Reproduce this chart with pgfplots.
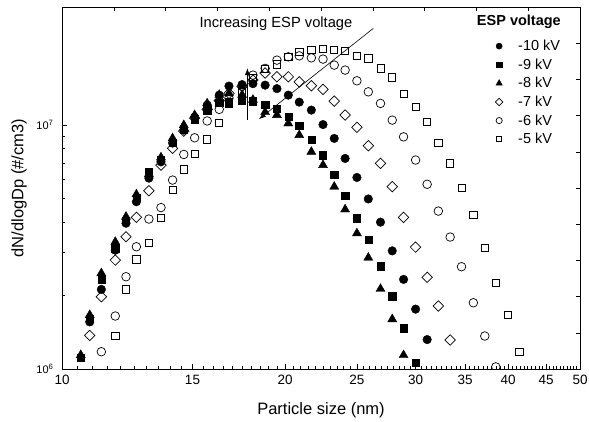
\documentclass[border=0pt]{standalone}
\usepackage{fontspec}
\setmainfont{Liberation Sans}
\usepackage{pgfplots}
\pgfplotsset{compat=1.18}
\usetikzlibrary{arrows.meta}

\begin{document}
\begin{tikzpicture}
\begin{axis}[
  at={(0pt,0pt)}, anchor=south west,
  scale only axis, width=518pt, height=362pt,
  xmode=log, ymode=log,
  xmin=10, xmax=50, ymin=1e6, ymax=3.05e7,
  xtick={10,15,20,25,30,35,40,45,50},
  xticklabels={10,15,20,25,30,35,40,45,50},
  minor xtick={10.5,11,...,49.5},
  ytick={1e6,1e7},
  yticklabels={10\textsuperscript{6},10\textsuperscript{7}},
  xtick pos=bottom, ytick pos=left,
  tick align=inside,
  major tick length=5pt, minor tick length=3pt,
  every tick/.style={black, line width=0.6pt},
  axis line style={line width=0.8pt},
  xticklabel style={font=\fontsize{13.5}{15}\selectfont, yshift=-3pt},
  yticklabel style={font=\fontsize{11}{12}\selectfont, xshift=-5pt},
  xlabel={Particle size (nm)},
  ylabel={dN/dlogDp (\#/cm3)},
  label style={font=\fontsize{16.5}{19}\selectfont},
  xlabel style={at={(axis description cs:0.5,-0.113)}, anchor=center},
  ylabel style={at={(axis description cs:-0.083,0.5)}, anchor=center},
  clip marker paths=true,
  legend style={draw=none, fill=none, at={(0.824,0.92)}, anchor=north west,
    font=\fontsize{14.5}{16}\selectfont, row sep=2.6pt},
  legend cell align=left,
  legend image code/.code={\draw[#1] plot coordinates {(0.25cm,0cm)}; \path[draw=none,fill=none] (0cm,0cm) -- (0.85cm,0cm);},
  legend image post style={every mark/.append style={scale=0.72}},
]
\addplot[only marks, mark=*, mark size=4.3pt, black] coordinates {
(10.6,0.99e6)(10.9,1.56e6)(11.3,2.12e6)(11.8,3.07e6)(12.2,3.96e6)(12.6,4.85e6)(13.1,6.06e6)(13.6,7.07e6)(14.1,8.44e6)(14.6,9.54e6)(15.1,1.078e7)(15.7,1.208e7)(16.3,1.327e7)(16.8,1.445e7)(17.5,1.466e7)(18.1,1.479e7)(18.8,1.458e7)(19.5,1.411e7)(20.2,1.327e7)(20.9,1.242e7)(21.7,1.152e7)(22.5,1.005e7)(23.3,8.82e6)(24.1,7.30e6)(25.0,6.10e6)(25.9,4.98e6)(26.9,4.00e6)(27.9,3.05e6)(28.9,2.33e6)(30.0,1.76e6)(31.1,1.32e6)(32.2,0.99e6)
};
\addlegendentry{-10 kV}
\addplot[only marks, mark=square*, mark size=3.6pt, black] coordinates {
(10.6,1.109e6)(10.9,1.603e6)(11.3,2.32e6)(11.8,3.13e6)(12.2,4.04e6)(12.6,5.02e6)(13.1,6.42e6)(13.6,7.19e6)(14.1,8.46e6)(14.6,9.54e6)(15.1,1.058e7)(15.7,1.152e7)(16.3,1.231e7)(16.8,1.242e7)(17.5,1.266e7)(18.1,1.254e7)(18.8,1.208e7)(19.5,1.171e7)(20.2,1.081e7)(20.9,9.93e6)(21.7,8.68e6)(22.5,7.53e6)(23.3,6.24e6)(24.1,5.12e6)(25.0,4.15e6)(25.9,3.38e6)(26.9,2.64e6)(27.9,1.99e6)(28.9,1.47e6)(30.0,1.065e6)
};
\addlegendentry{-9 kV}
\addplot[only marks, mark=triangle*, mark size=5.2pt, black] coordinates {
(10.6,1.141e6)(10.9,1.665e6)(11.3,2.47e6)(11.8,3.32e6)(12.2,4.21e6)(12.6,5.20e6)(13.1,6.30e6)(13.6,7.37e6)(14.1,8.83e6)(14.6,1.0e7)(15.1,1.099e7)(15.7,1.227e7)(16.3,1.33e7)(16.8,1.35e7)(17.5,1.33e7)(18.1,1.27e7)(18.8,1.13e7)(19.5,1.10e7)(20.2,1.016e7)(20.9,9.10e6)(21.7,7.77e6)(22.5,6.86e6)(23.3,5.59e6)(24.1,4.51e6)(25.0,3.60e6)(25.9,2.86e6)(26.9,2.13e6)(27.9,1.60e6)(28.9,1.14e6)
};
\addlegendentry{-8 kV}
\addplot[only marks, mark=square, mark size=3.7pt, black, mark options={rotate=45, fill=white, line width=0.7pt}] coordinates {
(10.9,1.372e6)(11.3,1.978e6)(11.8,2.797e6)(12.2,3.485e6)(12.6,4.185e6)(13.1,5.38e6)(13.6,6.85e6)(14.1,8.03e6)(14.6,9.45e6)(15.1,1.068e7)(15.7,1.16e7)(16.3,1.26e7)(16.8,1.35e7)(17.5,1.44e7)(18.1,1.53e7)(18.8,1.634e7)(19.5,1.578e7)(20.2,1.578e7)(20.9,1.505e7)(21.7,1.449e7)(22.5,1.401e7)(23.3,1.254e7)(24.1,1.099e7)(25.0,9.79e6)(25.9,8.23e6)(26.9,6.97e6)(27.9,5.59e6)(28.9,4.185e6)(30.0,3.16e6)(31.1,2.376e6)(32.2,1.812e6)(33.4,1.315e6)
};
\addlegendentry{-7 kV}
\addplot[only marks, mark=o, mark size=4.3pt, black, mark options={fill=white, line width=0.7pt}] coordinates {
(11.3,1.177e6)(11.8,1.649e6)(12.2,2.389e6)(12.6,3.171e6)(13.1,4.119e6)(13.6,4.59e6)(14.1,5.95e6)(14.6,7.58e6)(15.1,8.87e6)(15.7,1.04e7)(16.3,1.16e7)(16.8,1.29e7)(17.5,1.445e7)(18.1,1.603e7)(18.8,1.708e7)(19.5,1.847e7)(20.2,1.905e7)(20.9,1.923e7)(21.7,1.887e7)(22.5,1.865e7)(23.3,1.762e7)(24.1,1.681e7)(25.0,1.519e7)(25.9,1.369e7)(26.9,1.227e7)(27.9,1.048e7)(28.9,8.95e6)(30.0,7.19e6)(31.1,5.72e6)(32.2,4.44e6)(33.4,3.475e6)(34.6,2.626e6)(35.9,1.869e6)(37.2,1.365e6)(38.5,1.02e6)
};
\addlegendentry{-6 kV}
\addplot[only marks, mark=square, mark size=3.6pt, black, mark options={fill=white, line width=0.7pt}] coordinates {
(11.8,1.365e6)(12.2,2.121e6)(12.6,2.816e6)(13.1,3.293e6)(13.6,4.178e6)(14.1,5.415e6)(14.6,6.582e6)(15.1,7.605e6)(15.7,8.737e6)(16.3,1.022e7)(16.8,1.22e7)(17.5,1.365e7)(18.1,1.558e7)(18.8,1.696e7)(19.5,1.774e7)(20.2,1.90e7)(20.9,1.997e7)(21.7,2.029e7)(22.5,2.048e7)(23.3,2.029e7)(24.1,2.016e7)(25.0,1.918e7)(25.9,1.877e7)(26.9,1.708e7)(27.9,1.569e7)(28.9,1.340e7)(30.0,1.189e7)(31.1,1.032e7)(32.2,8.46e6)(33.4,6.97e6)(34.6,5.53e6)(35.9,4.28e6)(37.2,3.15e6)(38.5,2.26e6)(40.0,1.665e6)(41.4,1.177e6)
};
\addlegendentry{-5 kV}
\draw[line width=0.6pt, -{Latex[length=7pt,width=5pt]}] (axis cs:17.79,1.048e7) -- (axis cs:17.79,1.712e7);
\draw[line width=0.6pt, -{Latex[length=7pt,width=5pt]}] (axis cs:26.3,2.491e7) -- (axis cs:18.44,1.058e7);
\node[font=\fontsize{14.7}{16}\selectfont, anchor=center] at (axis cs:19.44,2.594e7) {Increasing ESP voltage};
\node[font=\fontsize{14.5}{16}\selectfont\bfseries, anchor=center] at (rel axis cs:0.882,0.9586) {ESP voltage};
\end{axis}
\begin{axis}[
  at={(0pt,0pt)}, anchor=south west,
  scale only axis, width=518pt, height=362pt,
  xmin=0, xmax=1, ymin=0, ymax=1,
  axis x line*=top, axis y line*=right,
  xtick={0.1,0.2,...,0.9}, ytick={0.1,0.2,...,0.9},
  xticklabels={}, yticklabels={},
  tick align=inside, major tick length=4pt,
  every tick/.style={black, line width=0.6pt},
  axis line style={line width=0.8pt},
]
\end{axis}
\pgfresetboundingbox
\path (-62pt,-52pt) rectangle (527pt,369pt);
\end{tikzpicture}
\end{document}
